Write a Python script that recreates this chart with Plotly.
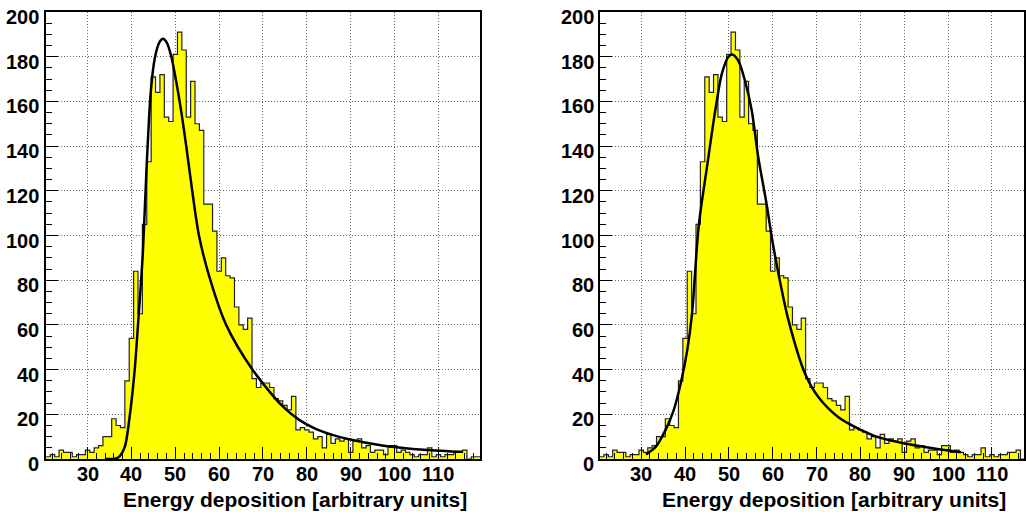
import plotly.graph_objects as go

# ---------------- data ----------------
bin_centers = [21, 22, 23, 24, 25, 26, 27, 28, 29, 30,
               31, 32, 33, 34, 35, 36, 37, 38, 39, 40,
               41, 42, 43, 44, 45, 46, 47, 48, 49, 50,
               51, 52, 53, 54, 55, 56, 57, 58, 59, 60,
               61, 62, 63, 64, 65, 66, 67, 68, 69, 70,
               71, 72, 73, 74, 75, 76, 77, 78, 79, 80,
               81, 82, 83, 84, 85, 86, 87, 88, 89, 90,
               91, 92, 93, 94, 95, 96, 97, 98, 99, 100,
               101, 102, 103, 104, 105, 106, 107, 108, 109, 110,
               111, 112, 113, 114, 115, 116, 117, 118, 119]
counts = [1, 2, 1, 4, 3, 3, 1, 2, 2, 4,
          3, 5, 6, 10, 10, 18, 15, 14, 35, 54,
          84, 65, 105, 133, 171, 164, 172, 153, 151, 181,
          191, 183, 153, 169, 150, 147, 114, 114, 102, 84,
          90, 82, 81, 68, 60, 58, 63, 36, 32, 34,
          34, 32, 27, 26, 24, 22, 28, 13, 14, 13,
          12, 9, 10, 5, 11, 7, 9, 8, 9, 3,
          8, 9, 5, 6, 3, 4, 4, 2, 6, 6,
          3, 4, 3, 2, 1, 2, 2, 5, 1, 2,
          1, 2, 2, 3, 3, 4, 0, 1, 1]
bin_width = 1.0

# Landau fit curve (left panel)
landau_x = [34.0, 36.5, 37.3, 38.5, 39.6, 40.75, 41.5, 42.6, 43.4, 44.4, 45.3,
            46.4, 47.2, 48.0, 49.1, 50.2, 51.4, 52.5, 54.0, 55.4, 58.0, 61.6,
            67.6, 74.5, 78.25, 82.0, 85.8, 89.6, 97.2, 104.8, 112.3, 115.5]
landau_y = [0.0, 0.3, 1.2, 5.5, 19.0, 40.0, 60.0, 92.0, 128.0, 164.0, 179.0,
            186.5, 188.0, 186.5, 180.0, 169.0, 155.0, 140.0, 118.0, 100.0, 80.0, 60.0,
            40.0, 23.5, 17.5, 13.5, 10.8, 8.8, 6.0, 4.4, 3.5, 3.2]

# Landau (x) Gauss fit curve (right panel)
langau_x = [31.1, 33.3, 35.5, 37.4, 39.0, 40.5, 41.6, 43.1, 45.0, 46.9, 48.4,
            49.9, 50.8, 52.2, 53.7, 55.2, 56.7, 58.6, 59.8, 61.3, 63.6, 67.4,
            70.4, 74.9, 79.5, 84.0, 90.1, 96.1, 102.9]
langau_y = [2.0, 5.4, 12.8, 21.8, 33.7, 48.6, 65.0, 104.0, 130.6, 156.0, 172.4,
            180.0, 181.0, 178.0, 169.0, 156.0, 135.0, 114.0, 99.0, 83.0, 62.0, 38.0,
            27.7, 18.8, 13.6, 9.8, 6.9, 4.9, 3.0]

x_tick_vals = [30, 40, 50, 60, 70, 80, 90, 100, 110]
y_tick_vals = [0, 20, 40, 60, 80, 100, 120, 140, 160, 180, 200]
x_title = "Energy deposition [arbitrary units]"

# ---------------- layout geometry ----------------
W, H = 1026, 512
left_dom = [46 / W, 481 / W]
right_dom = [600.7 / W, 1.0]
y_dom = [(H - 459) / H, (H - 12) / H]
x_range_left = [20.5, 119.5]
x_range_right = [20.5, 117.3]
FONT = "Liberation Sans"

fig = go.Figure()

edges = [c - bin_width / 2 for c in bin_centers] + [bin_centers[-1] + bin_width / 2]
step_y = counts + [counts[-1]]

panels = [("x", "y", landau_x, landau_y), ("x2", "y2", langau_x, langau_y)]
for xa, ya, cx, cy in panels:
    fig.add_trace(go.Bar(x=bin_centers, y=counts, width=bin_width,
                         marker=dict(color="#ffff00", line=dict(width=0)),
                         xaxis=xa, yaxis=ya, showlegend=False, hoverinfo="skip"))
    fig.add_trace(go.Scatter(x=edges, y=step_y, mode="lines", line_shape="hv",
                             line=dict(color="#222222", width=1.2),
                             xaxis=xa, yaxis=ya, showlegend=False, hoverinfo="skip"))
    fig.add_trace(go.Scatter(x=cx, y=cy, mode="lines", line_shape="spline",
                             line=dict(color="black", width=2.5, smoothing=0.8),
                             xaxis=xa, yaxis=ya, showlegend=False, hoverinfo="skip"))

axis_common = dict(showline=True, linecolor="black", linewidth=2, mirror=True,
                   ticks="inside", tickcolor="black", tickwidth=1,
                   showticklabels=False, showgrid=True, gridcolor="#666666",
                   griddash="1px,2px", gridwidth=1, zeroline=False)

fig.update_layout(
    width=W, height=H, margin=dict(l=0, r=0, t=0, b=0),
    paper_bgcolor="white", plot_bgcolor="white", bargap=0,
    xaxis=dict(domain=left_dom, range=x_range_left, anchor="y", tickvals=x_tick_vals,
               ticklen=12, minor=dict(ticks="inside", dtick=2, tick0=0, ticklen=6,
                                      tickcolor="black", showgrid=False),
               **axis_common),
    yaxis=dict(domain=y_dom, range=[0, 200], anchor="x", tickvals=y_tick_vals,
               ticklen=12, minor=dict(ticks="inside", dtick=5, tick0=0, ticklen=6,
                                      tickcolor="black", showgrid=False),
               **axis_common),
    xaxis2=dict(domain=right_dom, range=x_range_right, anchor="y2", tickvals=x_tick_vals,
                ticklen=12, minor=dict(ticks="inside", dtick=2, tick0=0, ticklen=6,
                                       tickcolor="black", showgrid=False),
                **axis_common),
    yaxis2=dict(domain=y_dom, range=[0, 200], anchor="x2", tickvals=y_tick_vals,
                ticklen=12, minor=dict(ticks="inside", dtick=5, tick0=0, ticklen=6,
                                       tickcolor="black", showgrid=False),
                **axis_common),
)

ann = []
for xref, yref, lab_x, title_x in [("x", "y", 41 / W, 295.5 / W),
                                   ("x2", "y2", 597 / W, 835.5 / W)]:
    for v in y_tick_vals:
        ann.append(dict(text=f"<b>{v}</b>", xref="paper", yref=yref, x=lab_x, y=v,
                        xanchor="right", yanchor="middle", yshift=-5, showarrow=False,
                        font=dict(family=FONT, size=20, color="black")))
    for v in x_tick_vals:
        ann.append(dict(text=f"<b>{v}</b>", xref=xref, yref="paper", x=v,
                        y=(H - 474) / H, xanchor="center", yanchor="middle",
                        showarrow=False, font=dict(family=FONT, size=20, color="black")))
    ann.append(dict(text=f"<b>{x_title}</b>", xref="paper", yref="paper", x=title_x,
                    y=(H - 499) / H, xanchor="center", yanchor="middle", showarrow=False,
                    font=dict(family=FONT, size=21, color="black")))
fig.update_layout(annotations=ann)

fig.write_html("out.html", config={"displayModeBar": False},
               post_script="document.body.style.margin='0';document.body.style.overflow='hidden';")
